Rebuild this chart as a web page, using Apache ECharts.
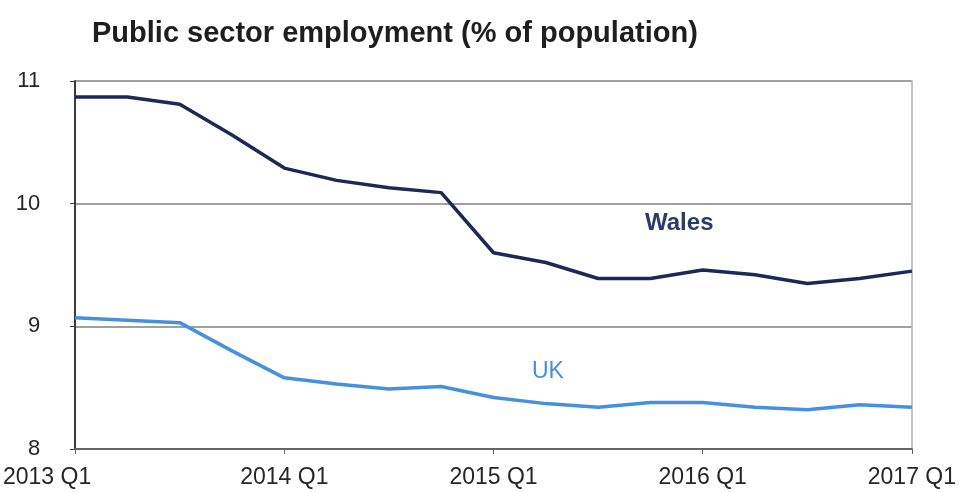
<!DOCTYPE html>
<html>
<head>
<meta charset="utf-8">
<script src="https://cdn.jsdelivr.net/npm/echarts@6/dist/echarts.min.js"></script>
<style>
  html, body { margin: 0; padding: 0; background: #ffffff; }
  #chart { width: 959px; height: 492px; }
</style>
</head>
<body>
<div id="chart"></div>
<script>
// Quarterly periods, 2013 Q1 to 2017 Q1
const quarters = [
  '2013Q1','2013Q2','2013Q3','2013Q4',
  '2014Q1','2014Q2','2014Q3','2014Q4',
  '2015Q1','2015Q2','2015Q3','2015Q4',
  '2016Q1','2016Q2','2016Q3','2016Q4',
  '2017Q1'
];

// Public sector employment as % of population
const wales = [10.87, 10.87, 10.81, 10.56, 10.29, 10.19, 10.13, 10.09,
               9.60, 9.52, 9.39, 9.39, 9.46, 9.42, 9.35, 9.39, 9.45];
const uk    = [9.07, 9.05, 9.03, 8.80, 8.58, 8.53, 8.49, 8.51,
               8.42, 8.37, 8.34, 8.38, 8.38, 8.34, 8.32, 8.36, 8.34];

const yTicks = [8, 9, 10, 11];

const chart = echarts.init(document.getElementById('chart'), null, { renderer: 'canvas' });

const FONT = '"Liberation Sans", Arial, sans-serif';

// "2013Q1" -> "2013 Q1"; the first label gets extra right padding so it sits left of the axis origin
function quarterLabel(value, index) {
  const txt = value.replace('Q', ' Q');
  return index === 0 ? '{first|' + txt + '}' : txt;
}

chart.setOption({
  animation: false,
  backgroundColor: '#ffffff',
  title: {
    text: 'Public sector employment (% of population)',
    left: 87,
    top: 14,
    textStyle: { fontFamily: FONT, fontSize: 29, fontWeight: 'bold', color: '#1e1e1e' }
  },
  grid: { left: 75, right: 44, top: 81, bottom: 43, containLabel: false },
  xAxis: {
    type: 'category',
    data: quarters,
    boundaryGap: false,
    axisLine: { show: true, lineStyle: { color: '#666666', width: 2 } },
    axisTick: { show: true, interval: 3, length: 5, lineStyle: { color: '#666666' } },
    axisLabel: {
      interval: 3,
      margin: 17,
      fontFamily: FONT,
      fontSize: 23,
      color: '#262626',
      formatter: quarterLabel,
      rich: {
        first: { fontFamily: FONT, fontSize: 23, color: '#262626', padding: [0, 56, 0, 0] }
      }
    },
    splitLine: { show: false }
  },
  yAxis: [
    {
      type: 'value',
      min: yTicks[0],
      max: yTicks[yTicks.length - 1],
      interval: 1,
      axisLine: { show: true, lineStyle: { color: '#3c3c3c', width: 2 } },
      axisTick: { show: true, length: 5, lineStyle: { color: '#3c3c3c' } },
      axisLabel: {
        margin: 35,
        fontFamily: FONT,
        fontSize: 22,
        color: '#262626',
        padding: [9, 0, 0, 0]
      },
      splitLine: { show: true, lineStyle: { color: '#a0a0a0', width: 2 } }
    },
    {
      type: 'value',
      position: 'right',
      min: yTicks[0],
      max: yTicks[yTicks.length - 1],
      interval: 1,
      axisLine: { show: true, lineStyle: { color: '#b0b0b0', width: 1.5 } },
      axisTick: { show: false },
      axisLabel: { show: false },
      splitLine: { show: false }
    }
  ],
  series: [
    {
      name: 'Wales',
      type: 'line',
      data: wales,
      symbol: 'none',
      smooth: false,
      lineStyle: { color: '#1c2858', width: 3.5 },
      z: 3
    },
    {
      name: 'UK',
      type: 'line',
      data: uk,
      symbol: 'none',
      smooth: false,
      lineStyle: { color: '#4690e0', width: 3.5 },
      z: 3
    }
  ],
  graphic: [
    {
      type: 'text',
      left: 645,
      top: 211,
      style: { text: 'Wales', fontFamily: FONT, fontSize: 24, fontWeight: 'bold', fill: '#2b3a6b' }
    },
    {
      type: 'text',
      left: 532,
      top: 360,
      style: { text: 'UK', fontFamily: FONT, fontSize: 23, fill: '#4690e0' }
    }
  ]
});
</script>
</body>
</html>
